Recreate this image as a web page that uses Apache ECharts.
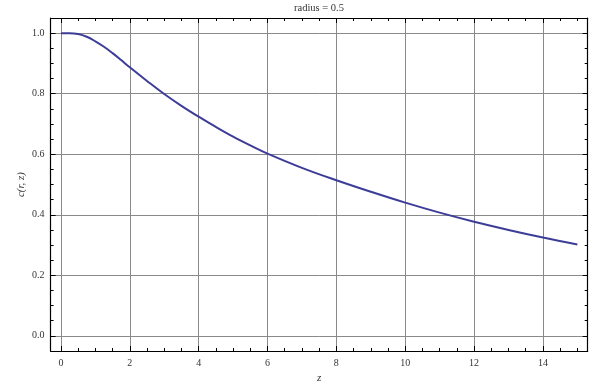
<!DOCTYPE html>
<html>
<head>
<meta charset="utf-8">
<script src="https://cdn.jsdelivr.net/npm/echarts@6/dist/echarts.min.js"></script>
<style>html,body{margin:0;padding:0;background:#fff}#c{width:605px;height:385px}</style>
</head>
<body>
<div id="c"></div>
<script>
const titleText = 'radius = 0.5';
const xName = 'z';
const yName = 'c(r, z)';
const zValues = [0, 0.25, 0.5, 0.75, 1.0, 1.25, 1.5, 1.75, 2.0, 2.5, 3.0, 3.5, 4.0, 4.5, 5.0, 5.5, 6.0, 7.0, 8.0, 9.0, 10.0, 11.0, 12.0, 13.0, 14.0, 15.0];
const cValues = [1.000, 1.000, 0.997, 0.988, 0.973, 0.955, 0.934, 0.911, 0.887, 0.842, 0.799, 0.760, 0.724, 0.690, 0.658, 0.629, 0.602, 0.555, 0.514, 0.476, 0.440, 0.407, 0.377, 0.350, 0.325, 0.302];
const xMajorTicks = [0, 2, 4, 6, 8, 10, 12, 14];
const xMinorTicks = [0, 0.5, 1, 1.5, 2, 2.5, 3, 3.5, 4, 4.5, 5, 5.5, 6, 6.5, 7, 7.5, 8, 8.5, 9, 9.5, 10, 10.5, 11, 11.5, 12, 12.5, 13, 13.5, 14, 14.5, 15];
const yMajorTicks = [0, 0.2, 0.4, 0.6, 0.8, 1.0];
const yMinorTicks = [0, 0.05, 0.1, 0.15, 0.2, 0.25, 0.3, 0.35, 0.4, 0.45, 0.5, 0.55, 0.6, 0.65, 0.7, 0.75, 0.8, 0.85, 0.9, 0.95, 1.0];
const xRange = [-0.3, 15.3];
const yRange = [-0.05, 1.05];

const FONT = 'Liberation Serif';
const lineCol = '#000';
const gridCol = '#8a8a8a';

function xAxisDef(pos, major, withLabels) {
  return {
    type: 'value', gridIndex: 0, position: pos, min: xRange[0], max: xRange[1],
    name: (pos === 'bottom' && major) ? xName : '',
    nameLocation: 'middle', nameGap: 22, nameMoveOverlap: false,
    nameTextStyle: {fontFamily: FONT, fontSize: 11, fontStyle: 'italic', color: '#333'},
    axisLine: {show: major, onZero: false, lineStyle: {color: lineCol, width: 1.2}},
    axisTick: {show: true, inside: true, length: major ? 5 : 3, customValues: major ? xMajorTicks : xMinorTicks,
               lineStyle: {color: lineCol, width: 1}},
    axisLabel: {show: withLabels, customValues: xMajorTicks, margin: 7, fontFamily: FONT, fontSize: 10, color: '#333'},
    splitLine: {show: withLabels, lineStyle: {color: gridCol, width: 1}}
  };
}
function yAxisDef(pos, major, withLabels) {
  return {
    type: 'value', gridIndex: 0, position: pos, min: yRange[0], max: yRange[1],
    name: (pos === 'left' && major) ? yName : '',
    nameLocation: 'middle', nameGap: 24, nameRotate: 90, nameMoveOverlap: false,
    nameTextStyle: {fontFamily: FONT, fontSize: 11, fontStyle: 'italic', color: '#333'},
    axisLine: {show: major, onZero: false, lineStyle: {color: lineCol, width: 1.2}},
    axisTick: {show: true, inside: true, length: major ? 5 : 3, customValues: major ? yMajorTicks : yMinorTicks,
               lineStyle: {color: lineCol, width: 1}},
    axisLabel: {show: withLabels, customValues: yMajorTicks, margin: 6, fontFamily: FONT, fontSize: 10, color: '#333',
                formatter: v => v.toFixed(1)},
    splitLine: {show: withLabels, lineStyle: {color: gridCol, width: 1}}
  };
}

const chart = echarts.init(document.getElementById('c'), null, {renderer: 'canvas'});
chart.setOption({
  animation: false,
  backgroundColor: '#fff',
  grid: {left: 50.6, right: 17.3, top: 18, bottom: 34, containLabel: false, outerBoundsMode: 'none'},
  graphic: [{
    type: 'text', x: 319, y: 3,
    style: {text: titleText, textAlign: 'center', fontFamily: FONT, fontSize: 10.5, fill: '#333'}
  }],
  xAxis: [
    xAxisDef('bottom', true, true),
    xAxisDef('bottom', false, false),
    xAxisDef('top', true, false),
    xAxisDef('top', false, false)
  ],
  yAxis: [
    yAxisDef('left', true, true),
    yAxisDef('left', false, false),
    yAxisDef('right', true, false),
    yAxisDef('right', false, false)
  ],
  series: [{
    type: 'line', xAxisIndex: 0, yAxisIndex: 0,
    data: zValues.map((z, i) => [z, cValues[i]]),
    showSymbol: false, smooth: 0.4,
    lineStyle: {color: '#3d3d99', width: 2},
    z: 10
  }]
});
</script>
</body>
</html>
